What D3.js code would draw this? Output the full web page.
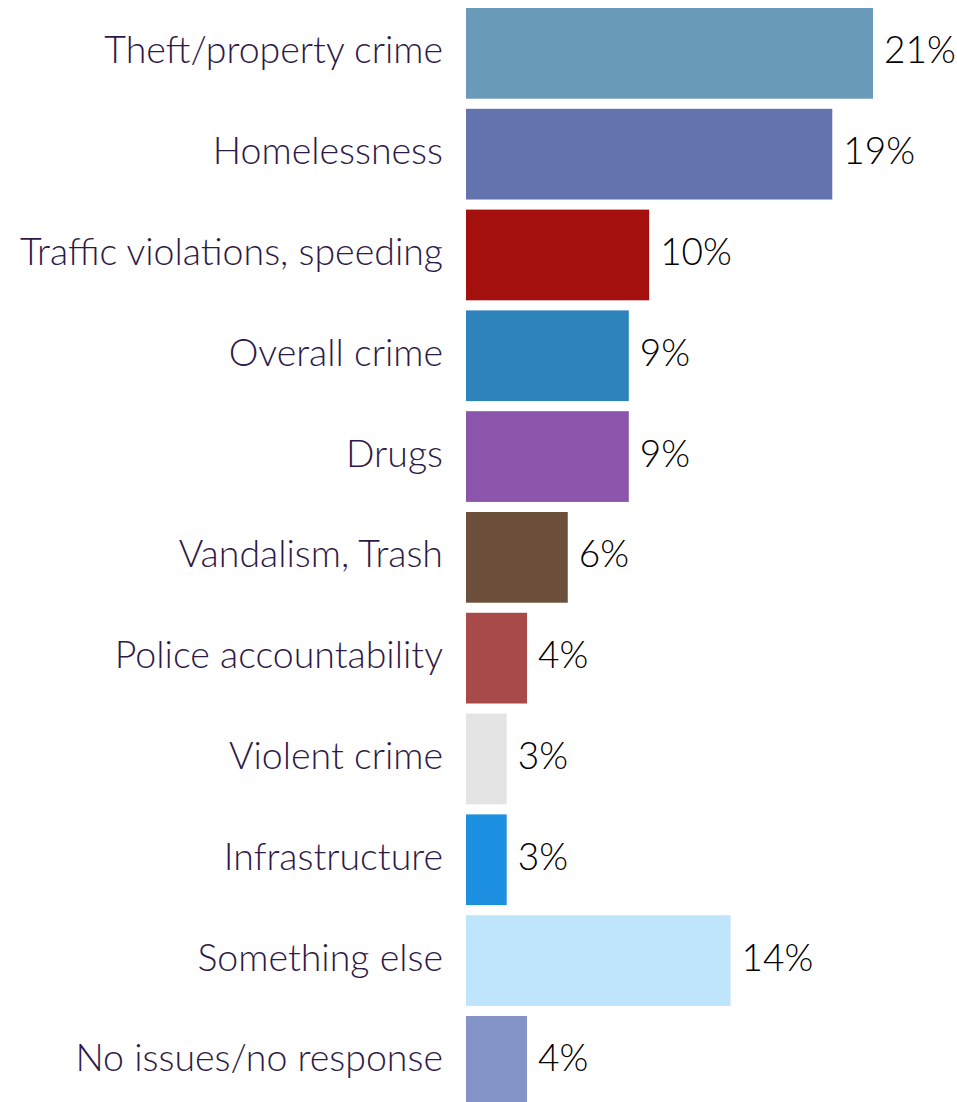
<!DOCTYPE html>
<html>
<head>
<meta charset="utf-8">
<script src="https://cdn.jsdelivr.net/npm/d3@7"></script>
<style>
  html, body { margin: 0; padding: 0; background: #fff; }
  svg { display: block; }
</style>
</head>
<body>
<script>
const categories = [
  "Theft/property crime",
  "Homelessness",
  "Traffic violations, speeding",
  "Overall crime",
  "Drugs",
  "Vandalism, Trash",
  "Police accountability",
  "Violent crime",
  "Infrastructure",
  "Something else",
  "No issues/no response"
];
const values = [21, 19, 10, 9, 9, 6, 4, 3, 3, 14, 4];
const valueLabels = ["21%", "19%", "10%", "9%", "9%", "6%", "4%", "3%", "3%", "14%", "4%"];
const colors = ["#6a9aba", "#6373ae", "#a3100d", "#2e83bb", "#8b55ab", "#6c503b",
                "#a84a4a", "#e4e4e4", "#1d90e1", "#bee5fc", "#8594c8"];

const W = 957, H = 1102;
const svg = d3.select("body").append("svg").attr("width", W).attr("height", H);

const data = categories.map((c, i) => ({ c, v: values[i], label: valueLabels[i], color: colors[i] }));

const x = d3.scaleLinear().domain([1, 21]).range([466, 873]);
const y = d3.scaleBand().domain(categories).range([8, 1106.7]).paddingInner(0.1).paddingOuter(0);

const font = "Lato, 'Open Sans', sans-serif";

svg.selectAll("rect.bar").data(data).join("rect")
  .attr("class", "bar")
  .attr("x", x(1))
  .attr("y", d => y(d.c))
  .attr("width", d => x(d.v) - x(1))
  .attr("height", y.bandwidth())
  .attr("fill", d => d.color);

svg.selectAll("text.cat").data(data).join("text")
  .attr("class", "cat")
  .attr("x", 443)
  .attr("y", d => y(d.c) + y.bandwidth() / 2 + 10)
  .attr("text-anchor", "end")
  .attr("font-family", font)
  .attr("font-size", 37.5)
  .attr("font-weight", 300)
  .attr("fill", "#2e1a47")
  .text(d => d.c);

svg.selectAll("text.val").data(data).join("text")
  .attr("class", "val")
  .attr("x", d => x(d.v) + 11)
  .attr("y", d => y(d.c) + y.bandwidth() / 2 + 10)
  .attr("font-family", font)
  .attr("font-size", 37)
  .attr("font-weight", 300)
  .attr("fill", "#000")
  .text(d => d.label);
</script>
</body>
</html>
